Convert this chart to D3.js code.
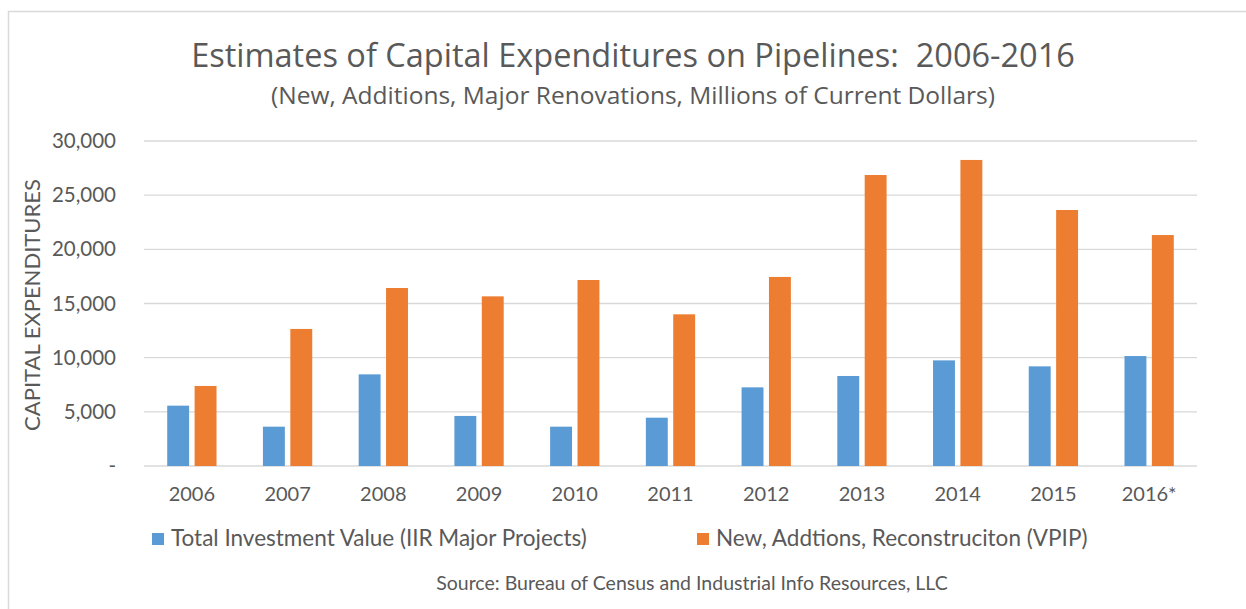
<!DOCTYPE html>
<html>
<head>
<meta charset="utf-8">
<script src="https://cdn.jsdelivr.net/npm/d3@7"></script>
<style>
  body { margin: 0; background: #fff; }
  text { fill: #595959; }
</style>
</head>
<body>
<div id="chart"></div>
<script>
// Data
const years = ["2006", "2007", "2008", "2009", "2010", "2011", "2012", "2013", "2014", "2015", "2016*"];
const seriesNames = ["Total Investment Value (IIR Major Projects)", "New, Addtions, Reconstruciton (VPIP)"];
const iirValues = [5570, 3630, 8460, 4620, 3630, 4460, 7260, 8310, 9750, 9200, 10150];
const vpipValues = [7390, 12650, 16430, 15660, 17170, 14000, 17450, 26860, 28250, 23630, 21320];
const yTicks = [0, 5000, 10000, 15000, 20000, 25000, 30000];
const colors = ["#5b9bd5", "#ed7d31"];

const width = 1246, height = 609;
const margin = {top: 141, right: 49, bottom: 143, left: 144};

const svg = d3.select("#chart")
    .append("svg")
    .attr("width", width)
    .attr("height", height);

// chart frame
svg.append("rect")
    .attr("x", 8.5).attr("y", 11.5)
    .attr("width", width).attr("height", height)
    .style("fill", "none")
    .style("stroke", "#d9d9d9")
    .style("stroke-width", 1.5);

const data = years.map((y, i) => ({year: y, values: [iirValues[i], vpipValues[i]]}));

const x0 = d3.scaleBand()
    .domain(years)
    .range([margin.left, width - margin.right])
    .paddingInner(0.485)
    .paddingOuter(0.2425);
const x1 = d3.scaleBand()
    .domain([0, 1])
    .range([0, x0.bandwidth()])
    .paddingInner(0.2);
const y = d3.scaleLinear()
    .domain([0, 30000])
    .range([height - margin.bottom, margin.top]);

// gridlines
svg.append("g")
    .selectAll("line")
    .data(yTicks)
    .enter()
    .append("line")
    .attr("x1", margin.left)
    .attr("x2", width - margin.right)
    .attr("y1", d => y(d))
    .attr("y2", d => y(d))
    .style("stroke", "#d9d9d9")
    .style("stroke-width", 1.3);

// y axis labels
const yAxis = svg.append("g")
    .attr("transform", "translate(" + margin.left + ",0)")
    .call(d3.axisLeft(y).tickValues(yTicks).tickSize(0).tickPadding(28)
        .tickFormat(d => d === 0 ? "-" : d3.format(",")(d)));
yAxis.select(".domain").remove();
yAxis.selectAll("text")
    .style("font-family", "Lato, sans-serif")
    .style("font-size", "20.5px")
    .style("fill", "#595959");

// bars
const groups = svg.append("g")
    .selectAll("g")
    .data(data)
    .enter()
    .append("g")
    .attr("transform", d => "translate(" + x0(d.year) + ",0)");
groups.selectAll("rect")
    .data(d => d.values)
    .enter()
    .append("rect")
    .attr("x", (d, i) => x1(i))
    .attr("width", x1.bandwidth())
    .attr("y", d => y(d))
    .attr("height", d => y(0) - y(d))
    .style("fill", (d, i) => colors[i]);

// x axis labels
const xAxis = svg.append("g")
    .attr("transform", "translate(0," + y(0) + ")")
    .call(d3.axisBottom(x0).tickSize(0).tickPadding(21));
xAxis.select(".domain").remove();
xAxis.selectAll("text")
    .style("font-family", "Lato, sans-serif")
    .style("font-size", "20px")
    .style("fill", "#595959");

// titles
svg.append("text")
    .text("Estimates of Capital Expenditures on Pipelines:  2006-2016")
    .attr("x", 633).attr("y", 67)
    .attr("text-anchor", "middle")
    .style("white-space", "pre")
    .style("font-family", "'Open Sans', sans-serif")
    .style("font-size", "32.5px");
svg.append("text")
    .text("(New, Additions, Major Renovations, Millions of Current Dollars)")
    .attr("x", 633).attr("y", 104)
    .attr("text-anchor", "middle")
    .style("font-family", "'Open Sans', sans-serif")
    .style("font-size", "24.5px");

// y axis title
svg.append("text")
    .text("CAPITAL EXPENDITURES")
    .attr("transform", "translate(40,305) rotate(-90)")
    .attr("text-anchor", "middle")
    .style("font-family", "Lato, sans-serif")
    .style("font-size", "22px");

// legend
const legendX = [152, 697];
const legend = svg.append("g")
    .selectAll("g")
    .data(seriesNames)
    .enter()
    .append("g")
    .attr("transform", (d, i) => "translate(" + legendX[i] + ",533)");
legend.append("rect")
    .attr("width", 12).attr("height", 12)
    .style("fill", (d, i) => colors[i]);
legend.append("text")
    .text(d => d)
    .attr("x", 19).attr("y", 13)
    .style("font-family", "Lato, sans-serif")
    .style("font-size", "22.5px");

// source
svg.append("text")
    .text("Source: Bureau of Census and Industrial Info Resources, LLC")
    .attr("x", 692).attr("y", 590)
    .attr("text-anchor", "middle")
    .style("font-family", "Lato, sans-serif")
    .style("font-size", "19.5px");
</script>
</body>
</html>
